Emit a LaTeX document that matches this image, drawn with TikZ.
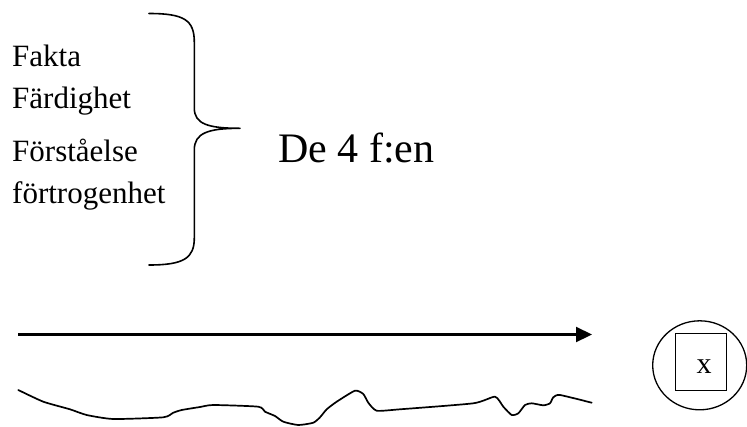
\documentclass[tikz,border=0pt]{standalone}
\usepackage{fontspec}
\setmainfont{Liberation Serif}
\usetikzlibrary{arrows.meta,shapes.geometric}
\begin{document}
\begin{tikzpicture}[x=1pt,y=-1pt,
  listtext/.style={anchor=base west,inner sep=0pt,font=\fontsize{31}{31}\selectfont},
  bigtext/.style={anchor=base west,inner sep=0pt,font=\fontsize{42}{42}\selectfont},
  bracestroke/.style={line width=1.6pt,line cap=round,line join=round},
  wavestroke/.style={line width=1.7pt,line cap=round,line join=round},
  arrowstroke/.style={line width=2.2pt,-{Triangle[length=16pt,width=15pt]}},
  circlebox/.style={draw,ellipse,line width=1.3pt,minimum width=94pt,minimum height=89pt,inner sep=0pt},
  xbox/.style={draw,rectangle,line width=1.6pt,minimum width=51pt,minimum height=57pt,inner sep=0pt,font=\fontsize{30}{30}\selectfont}
]
\useasboundingbox (0,0) rectangle (747,426);

% list
\node[listtext] (fakta) at (12,66.7) {Fakta};
\node[listtext] (fardighet) at (12,108.3) {Färdighet};
\node[listtext] (forstaelse) at (12,161.7) {Förståelse};
\node[listtext] (fortrogenhet) at (12,203) {förtrogenhet};

% brace
\draw[bracestroke] (149,13.5) .. controls (184,13.5) and (194.3,20) .. (194.3,42)
  -- (194.3,108) .. controls (194.3,124) and (208,128.3) .. (240,128.3)
  .. controls (208,128.3) and (194.3,133) .. (194.3,150)
  -- (194.3,238) .. controls (194.3,258) and (184,265) .. (149,265);

\node[bigtext] (defyra) at (278,162.7) {De 4 f:en};

% arrow
\coordinate (arrowstart) at (18,334.5);
\coordinate (arrowend) at (592,334.5);
\draw[arrowstroke] (arrowstart) -- (arrowend);

% wavy line
\draw[wavestroke] plot[smooth,tension=0.35] coordinates {
  (18.3,390) (43.3,401.7) (70,409.3) (86.7,415) (113.3,419) (163.3,417.3)
  (173.3,412.7) (181.7,410) (200,407) (213.3,405) (258.3,406.7) (265,411.7)
  (275,416) (283.3,421.7) (298.3,425) (313.3,422.7) (320,417.3) (326.7,409.3)
  (336.7,401.7) (355,390.7) (363.3,394) (368.3,402.7) (376.7,410.7) (400,409.3)
  (473.3,403.3) (495,396.7) (503.3,406.7) (511.7,415) (518.3,413.3) (525,405)
  (531.7,403.3) (543.3,405.3) (550,403.3) (553.3,397.3) (560,395) (591.7,402.7)};

% circle with box
\node[circlebox] (ring) at (699.7,365.3) {};
\node[xbox] (xsq) at (700.8,362) {};
\node[anchor=base,inner sep=0pt,font=\fontsize{30}{30}\selectfont] (xlabel) at (704,373.3) {x};
\end{tikzpicture}
\end{document}
